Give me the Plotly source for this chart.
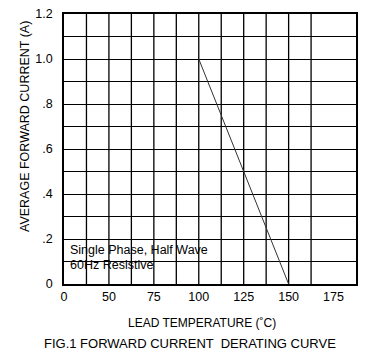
import plotly.graph_objects as go

# data
temp = [100, 150]
current = [1.0, 0.0]
x_tick_vals = [25, 50, 75, 100, 125, 150, 175]
x_tick_text = ["0", "50", "75", "100", "125", "150", "175"]
y_tick_vals = [0, 0.2, 0.4, 0.6, 0.8, 1.0, 1.2]
y_tick_text = ["0", ".2", ".4", ".6", ".8", "1.0", "1.2"]
x_grid = [37.5, 50, 62.5, 75, 87.5, 100, 112.5, 125, 137.5, 150, 162.5]

FONT = "Liberation Sans, Arial, sans-serif"

fig = go.Figure()
fig.add_trace(go.Scatter(x=temp, y=current, mode="lines",
                         line=dict(color="#333333", width=1), showlegend=False,
                         hoverinfo="skip"))

shapes = []
for gx in x_grid:
    shapes.append(dict(type="line", xref="x", yref="paper", x0=gx, x1=gx, y0=0, y1=1,
                       line=dict(color="black", width=1.3), layer="below"))
fig.update_layout(shapes=shapes)

fig.update_xaxes(range=[25, 187.5], tickvals=x_tick_vals, ticktext=x_tick_text,
                 showgrid=False, zeroline=False, showline=True, mirror=True,
                 linecolor="black", linewidth=1.5, ticks="", ticklabelstandoff=0,
                 automargin=False,
                 tickfont=dict(family=FONT, size=12.5, color="black"))
fig.update_yaxes(range=[0, 1.2], tickvals=y_tick_vals, ticktext=y_tick_text,
                 showgrid=True, gridcolor="black", gridwidth=1.3,
                 minor=dict(dtick=0.1, showgrid=True, gridcolor="black", gridwidth=1.3),
                 zeroline=False, showline=True, mirror=True,
                 linecolor="black", linewidth=1.5, ticks="", ticklabelstandoff=7,
                 automargin=False,
                 tickfont=dict(family=FONT, size=12.5, color="black"))

ann_font = dict(family=FONT, size=12.5, color="black")
pw, ph = 382 - 64 - 26, 358 - 14 - 74


def px(x):
    return (x - 64) / pw


def py(y):
    return 1 - (y - 14) / ph


anns = [
    dict(text="Single Phase, Half Wave", x=px(68), y=py(250), xref="paper", yref="paper",
         showarrow=False, font=ann_font, xanchor="left", yanchor="middle"),
    dict(text="60Hz Resistive", x=px(68), y=py(265), xref="paper", yref="paper",
         showarrow=False, font=ann_font, xanchor="left", yanchor="middle"),
    dict(text="LEAD TEMPERATURE (˚C)", x=px(201.5), y=py(323),
         xref="paper", yref="paper", showarrow=False,
         font=dict(family=FONT, size=12, color="black"),
         xanchor="center", yanchor="middle"),
    dict(text="FIG.1 FORWARD CURRENT  DERATING CURVE", x=px(190),
         y=py(343), xref="paper", yref="paper", showarrow=False,
         font=dict(family=FONT, size=13, color="black"),
         xanchor="center", yanchor="middle"),
    dict(text="AVERAGE FORWARD CURRENT (A)", x=px(25), y=py(127),
         xref="paper", yref="paper", showarrow=False, font=ann_font, textangle=-90,
         xanchor="center", yanchor="middle"),
]

fig.update_layout(
    width=382, height=358,
    margin=dict(l=64, r=26, t=14, b=74),
    plot_bgcolor="white", paper_bgcolor="white",
    annotations=anns,
)

fig.write_html("out.html", config={"displayModeBar": False},
               post_script="document.body.style.margin='0';")
